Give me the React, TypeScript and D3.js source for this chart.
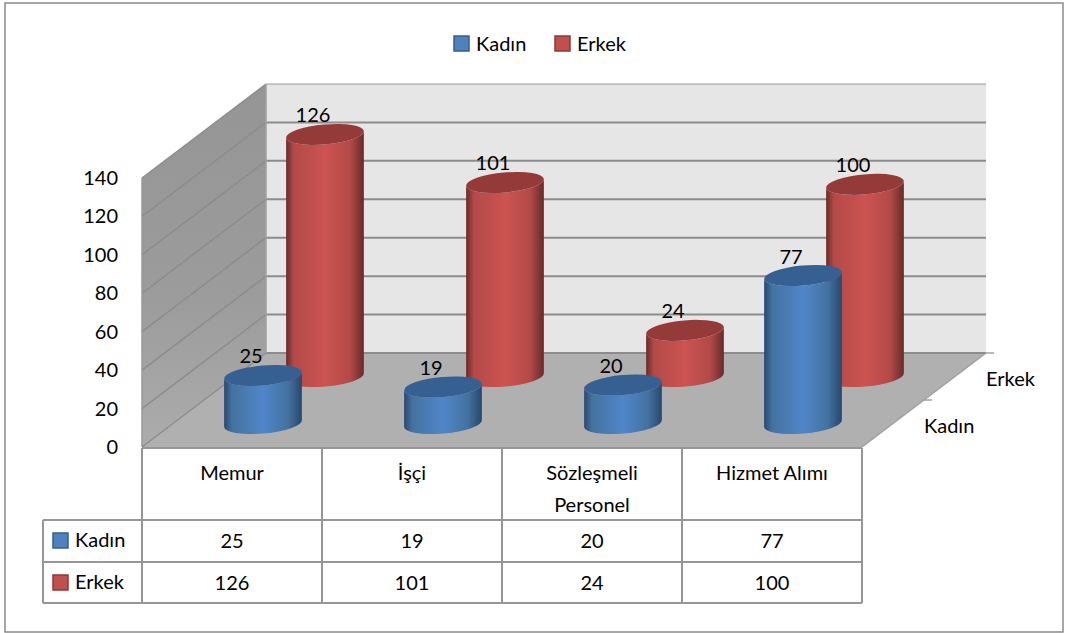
import React from 'react';
import * as d3 from 'd3';

const categories = ['Memur', 'İşçi', 'Sözleşmeli Personel', 'Hizmet Alımı'];
const seriesNames = ['Kadın', 'Erkek'];
const kadin = [25, 19, 20, 77];
const erkek = [126, 101, 24, 100];
const yTicks = [0, 20, 40, 60, 80, 100, 120, 140];

const FONT = 'Lato, "Open Sans", sans-serif';
const TEXT_SIZE = 20;
const palette: Record<string, any> = {
  Kadın: { swatch: '#4f81bd', edge: '#385d8a', top: '#376092', dark: '#28476d', mid: '#44729f', light: '#5086c9' },
  Erkek: { swatch: '#c0504d', edge: '#8c3836', top: '#943a38', dark: '#682b29', mid: '#b34a48', light: '#cc5350' },
};

// plot frame, front floor edge is left/right/floorY, depth goes up and to the right
const left = 142;
const right = 862;
const floorY = 447;
const depthX = 124;
const depthY = -94;
const plotH = 269;

const x = d3.scaleBand().domain(categories).range([left, right]);
const y = d3.scaleLinear().domain([0, 140]).range([0, plotH]);
const depth = d3.scaleBand().domain(seriesNames).range([0, 1]);

const project = (px: number, d: number, v: number) => [px + d * depthX, floorY + d * depthY - y(v)];
const line = (a: number[], b: number[]) => `M${a[0]},${a[1]}L${b[0]},${b[1]}`;

const RX = 39;
const RY = 10;
const TILT = 5;
const tiltX = RX * Math.cos((TILT * Math.PI) / 180);
const tiltY = RX * Math.sin((TILT * Math.PI) / 180);

function Cylinder({ cat, name, value }: { cat: string; name: string; value: number }) {
  const cx = x(cat)! + x.bandwidth() / 2;
  const d = depth(name)! + depth.bandwidth() / 2;
  const [bx, by] = project(cx, d, 0);
  const [, ty] = project(cx, d, value);
  const c = palette[name];
  const arc = (sweep: number, toX: number, toY: number) => `A${RX},${RY} ${-TILT} 0 ${sweep} ${toX},${toY}`;
  const side =
    `M${bx - tiltX},${ty + tiltY}` +
    `L${bx - tiltX},${by + tiltY}` +
    arc(0, bx + tiltX, by - tiltY) +
    `L${bx + tiltX},${ty - tiltY}` +
    arc(1, bx - tiltX, ty + tiltY) +
    'Z';
  const cap = `M${bx - tiltX},${ty + tiltY}` + arc(1, bx + tiltX, ty - tiltY) + arc(1, bx - tiltX, ty + tiltY) + 'Z';
  return (
    <g>
      <path d={side} fill={`url(#grad-${name})`} />
      <path d={cap} fill={c.top} />
    </g>
  );
}

export default function App() {
  const rows = [
    { name: 'Erkek', values: erkek },
    { name: 'Kadın', values: kadin },
  ];
  const tableRows = [
    { name: 'Kadın', values: kadin, top: 520, bottom: 562 },
    { name: 'Erkek', values: erkek, top: 562, bottom: 603 },
  ];
  const grid = '#8c8c8c';
  const tableLine = '#969696';

  const floor = [
    project(left, 0, 0),
    project(left, 1, 0),
    project(right, 1, 0),
    project(right, 0, 0),
  ];
  const leftWall = [
    project(left, 0, 0),
    project(left, 0, 140),
    project(left, 1, 140),
    project(left, 1, 0),
  ];
  const backWall = [
    project(left, 1, 0),
    project(left, 1, 140),
    project(right, 1, 140),
    project(right, 1, 0),
  ];
  const pts = (p: number[][]) => p.map((q) => q.join(',')).join(' ');

  return (
    <svg width={1069} height={633} style={{ position: 'absolute', left: 0, top: 0 }} fontFamily={FONT} fontSize={TEXT_SIZE}>
      <defs>
        {seriesNames.map((n) => {
          const c = palette[n];
          return (
            <linearGradient key={n} id={`grad-${n}`} x1="0" x2="1" y1="0" y2="0">
              <stop offset="0" stopColor={c.dark} />
              <stop offset="0.1" stopColor={c.mid} />
              <stop offset="0.5" stopColor={c.light} />
              <stop offset="0.82" stopColor={c.mid} />
              <stop offset="1" stopColor={c.dark} />
            </linearGradient>
          );
        })}
        <linearGradient id="wall" x1="0" x2="0" y1="0" y2="1">
          <stop offset="0" stopColor="#959595" />
          <stop offset="0.6" stopColor="#9c9c9c" />
          <stop offset="1" stopColor="#acacac" />
        </linearGradient>
      </defs>

      <rect x={5} y={3} width={1058} height={629} fill="#fff" stroke="#8a8a8a" strokeWidth={1.5} />

      {/* legend */}
      {seriesNames.map((n, i) => {
        const lx = [453, 554][i];
        return (
          <g key={n}>
            <rect x={lx + 1} y={36} width={15} height={15} fill={palette[n].swatch} stroke={palette[n].edge} strokeWidth={1.5} />
            <text x={lx + 23} y={51}>{n}</text>
          </g>
        );
      })}

      {/* walls and floor */}
      <polygon points={pts(backWall)} fill="#e6e6e6" />
      <polygon points={pts(leftWall)} fill="url(#wall)" />
      <polygon points={pts(floor)} fill="#b0b0b0" />
      {yTicks.map((t) => (
        <g key={t}>
          <path d={line(project(left, 1, t), project(right, 1, t))} stroke={grid} strokeWidth={t === 140 ? 1.5 : 2} opacity={t === 140 ? 0.6 : 1} fill="none" />
          <path d={line(project(left, 0, t), project(left, 1, t))} stroke={grid} strokeWidth={1.5} fill="none" />
          <text x={118} y={project(left, 0, t)[1] + 7} textAnchor="end">{t}</text>
        </g>
      ))}
      <path d={line(project(left, 0, 0), project(left, 0, 140))} stroke="#999" strokeWidth={1.5} fill="none" />
      <path d={line(project(left, 1, 0), project(left, 1, 140))} stroke="#a0a0a0" strokeWidth={1.5} fill="none" />
      <path d={line(project(right, 0, 0), project(right, 1, 0))} stroke="#a0a0a0" strokeWidth={1.5} fill="none" />

      {/* depth axis */}
      {[0.5, 1].map((d) => {
        const p = project(right, d, 0);
        return <path key={d} d={line(p, [p[0] + 8, p[1]])} stroke="#a0a0a0" strokeWidth={1.5} fill="none" />;
      })}
      {seriesNames.map((n) => {
        const p = project(right, depth(n)! + depth.bandwidth() / 2, 0);
        return <text key={n} x={p[0] + 31} y={p[1] + 9} textAnchor="start">{n}</text>;
      })}

      {/* cylinders, back row first */}
      {rows.map((r) =>
        categories.map((c, i) => <Cylinder key={r.name + c} cat={c} name={r.name} value={r.values[i]} />)
      )}
      {rows.map((r) =>
        categories.map((c, i) => {
          const cx = x(c)! + x.bandwidth() / 2;
          const p = project(cx, depth(r.name)! + depth.bandwidth() / 2, r.values[i]);
          return (
            <text key={r.name + c} x={p[0] - 12} y={p[1] - 12} textAnchor="middle">{r.values[i]}</text>
          );
        })
      )}

      {/* data table */}
      <g stroke={tableLine} strokeWidth={2} fill="none">
        <path d={line([left, 448], [right, 448])} />
        <path d={line([43, 520], [right, 520])} />
        <path d={line([43, 562], [right, 562])} />
        <path d={line([43, 603], [right, 603])} />
        <path d={line([43, 520], [43, 603])} />
        <path d={line([left, 448], [left, 603])} />
        {categories.map((c) => (
          <path key={c} d={line([x(c)! + x.bandwidth(), 448], [x(c)! + x.bandwidth(), 603])} />
        ))}
      </g>
      {categories.map((c) => {
        const cx = x(c)! + x.bandwidth() / 2;
        const parts = c === 'Sözleşmeli Personel' ? c.split(' ') : [c];
        return parts.map((s, j) => (
          <text key={s} x={cx} y={480 + j * 32} textAnchor="middle">{s}</text>
        ));
      })}
      {tableRows.map((r) => (
        <g key={r.name}>
          <rect x={53} y={r.top + 13} width={15} height={15} fill={palette[r.name].swatch} stroke={palette[r.name].edge} strokeWidth={1.5} />
          <text x={75} y={r.top + 27}>{r.name}</text>
          {categories.map((c, i) => (
            <text key={c} x={x(c)! + x.bandwidth() / 2} y={r.top + 28} textAnchor="middle">{r.values[i]}</text>
          ))}
        </g>
      ))}
    </svg>
  );
}
